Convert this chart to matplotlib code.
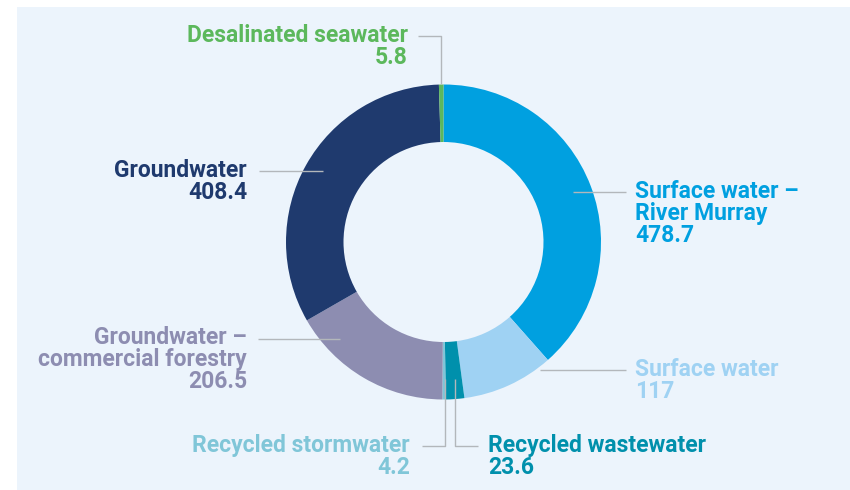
import matplotlib
matplotlib.use("Agg")
import matplotlib.pyplot as plt
from matplotlib.patches import Rectangle

# water sources, in the order they run clockwise from 12 o'clock
sources = ["Surface water –\nRiver Murray", "Surface water", "Recycled wastewater",
           "Recycled stormwater", "Groundwater –\ncommercial forestry",
           "Groundwater", "Desalinated seawater"]
volumes = [478.7, 117, 23.6, 4.2, 206.5, 408.4, 5.8]
value_labels = ["478.7", "117", "23.6", "4.2", "206.5", "408.4", "5.8"]
colours = ["#00a0e0", "#9fd2f3", "#0090ac", "#80c6d8", "#8d8db1",
           "#1f3a6e", "#5cb85c"]

W, H = 850, 490
BG = "#ecf4fc"
LEADER = "#b3b7bb"

fig = plt.figure(figsize=(W / 100, H / 100), dpi=100)
ax = fig.add_axes([0, 0, 1, 1])
ax.add_patch(Rectangle((17, 0), W - 17, H - 7, facecolor=BG, edgecolor="none", zorder=0))

cx, cy, r = 443.5, H - 242, 157.5
ax.pie(volumes, colors=colours, radius=r, center=(cx, cy), startangle=90,
       counterclock=False, wedgeprops=dict(width=57.5, linewidth=0), frame=True)

ax.set_xlim(0, W)
ax.set_ylim(0, H)
ax.set_aspect("auto")
ax.axis("off")


def label(i, x, y, ha):
    # y is the pixel row of the first baseline, counted from the top
    lines = sources[i].split("\n") + [value_labels[i]]
    for k, line in enumerate(lines):
        ax.text(x, H - (y + 22 * k), line, color=colours[i], ha=ha,
                va="baseline", fontsize=16.5, fontweight="bold", family="Roboto",
                zorder=3)


def leader(xs, ys):
    ax.plot(xs, [H - y for y in ys], color=LEADER, lw=1.0, zorder=2,
            solid_capstyle="butt")


label(0, 635, 198, "left")
label(1, 635, 376, "left")
label(2, 488, 452, "left")
label(3, 410, 452, "right")
label(4, 247, 344, "right")
label(5, 247, 177, "right")
label(6, 408, 42, "right")

leader([573, 626], [192, 192])
leader([540, 626], [370, 370])
leader([455, 455, 478], [379, 446, 446])
leader([445, 445, 422], [379, 446, 446])
leader([258, 340], [339, 339])
leader([259, 323], [171, 171])
leader([418, 441, 441], [36, 36, 84])

fig.savefig("out.png", dpi=100, facecolor="white")
